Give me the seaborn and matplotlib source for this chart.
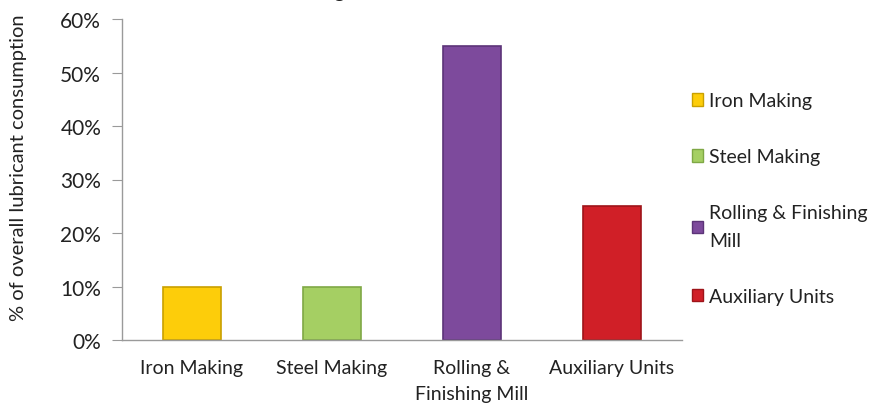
import matplotlib
matplotlib.use("Agg")
import matplotlib.pyplot as plt
import seaborn as sns
import pandas as pd
from matplotlib.ticker import PercentFormatter
from matplotlib.patches import Patch

categories = ["Iron Making", "Steel Making", "Rolling &\nFinishing Mill", "Auxiliary Units"]
legend_labels = ["Iron Making", "Steel Making", "Rolling & Finishing\nMill", "Auxiliary Units"]
values = [10, 10, 55, 25]
colors = ["#FDCD0A", "#A5CF63", "#7D4A9C", "#D01F27"]
edge_colors = ["#C9A000", "#7FA845", "#5C3478", "#9E1419"]
yticks = [0, 10, 20, 30, 40, 50, 60]
title_line = "in integrated steel Plant"
ylabel = "% of overall lubricant consumption"

sns.set_style("white")
plt.rcParams["font.family"] = ["Lato", "DejaVu Sans"]

fig = plt.figure(figsize=(8.74, 4.06), dpi=100)
ax = fig.add_axes([122/874, 65/406, 560/874, 321/406])

df = pd.DataFrame({"cat": categories, "val": values})
sns.barplot(data=df, x="cat", y="val", hue="cat", palette=colors, width=0.41,
            legend=False, ax=ax, saturation=1)
for p, ec in zip(ax.patches, edge_colors):
    p.set_edgecolor(ec)
    p.set_linewidth(1.2)

ax.set_ylim(0, 60)
ax.set_yticks(yticks)
ax.yaxis.set_major_formatter(PercentFormatter(decimals=0))
ax.set_xlabel("")
ax.set_ylabel(ylabel, fontsize=14.5, color="#222222")
ax.yaxis.set_label_coords(-95/560, (341 - 168) / 321)
ax.tick_params(axis="y", labelsize=15, colors="#222222", length=7, color="#9a9a9a",
               left=True, direction="out", pad=8)
ax.tick_params(axis="x", labelsize=14, colors="#222222", length=0, pad=14)
for s in ["top", "right"]:
    ax.spines[s].set_visible(False)
for s in ["left", "bottom"]:
    ax.spines[s].set_color("#9a9a9a")
    ax.spines[s].set_linewidth(1)
for t in ax.get_xticklabels():
    t.set_linespacing(1.6)

handles = [Patch(facecolor=c, edgecolor=e) for c, e in zip(colors, edge_colors)]
leg = fig.legend(handles, legend_labels, loc="upper left", bbox_to_anchor=(674/874, 1 - 76/406),
                 frameon=False, fontsize=14, handlelength=0.6, handleheight=0.6,
                 handletextpad=0.3, labelspacing=2.0, labelcolor="#222222")
for t in leg.get_texts():
    t.set_linespacing(1.75)

fig.text(384/874, 1 + 2/406, title_line,
         ha="center", va="baseline", fontsize=14, fontweight="bold", color="#222222")

fig.savefig("out.png", dpi=100)
